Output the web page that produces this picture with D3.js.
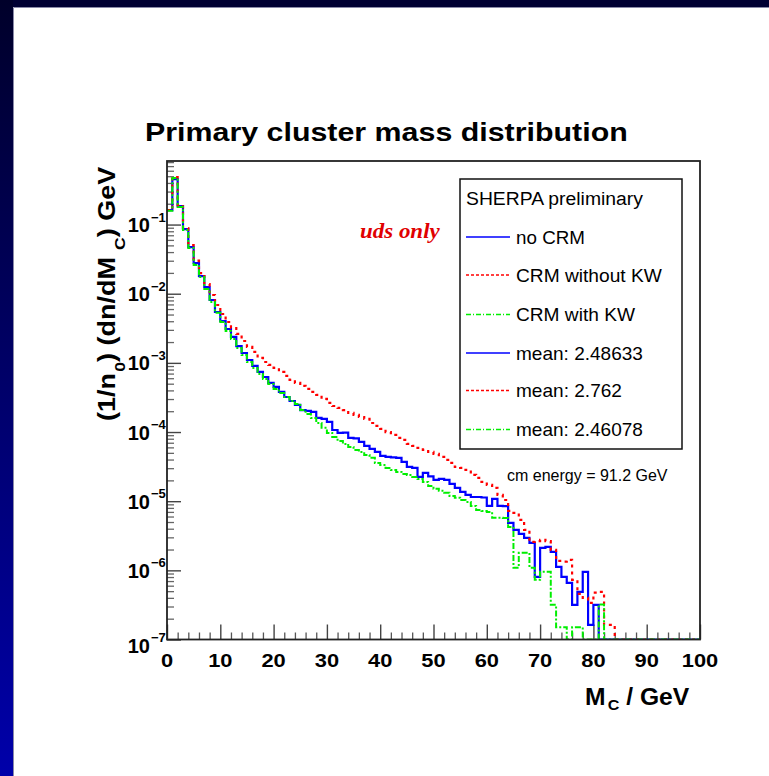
<!DOCTYPE html>
<html>
<head>
<meta charset="utf-8">
<script src="https://cdn.jsdelivr.net/npm/d3@7"></script>
<style>
  html, body { margin: 0; padding: 0; background: #ffffff; }
  svg { display: block; }
</style>
</head>
<body>
<svg id="chart" width="769" height="776"></svg>
<script>
// Normalised primary cluster mass spectra, 1 GeV bins from 0 to 100 GeV
const massRange = [0, 100];

const noCRM = [
  0.162, 0.455, 0.185, 0.0861, 0.0473, 0.0278, 0.0180, 0.0125, 0.00811, 0.00544,
  0.00403, 0.00309, 0.00237, 0.00175, 0.00139, 0.00110, 0.000902, 0.000739, 0.000625, 0.000513,
  0.000449, 0.000380, 0.000321, 0.000281, 0.000247, 0.000208, 0.000202, 0.000195, 0.000160, 0.000155,
  0.000140, 0.000107, 0.0000971, 0.0000980, 0.0000822, 0.0000808, 0.0000719, 0.0000630, 0.0000570, 0.0000516,
  0.0000452, 0.0000437, 0.0000430, 0.0000423, 0.0000370, 0.0000313, 0.0000303, 0.0000224, 0.0000256, 0.0000228,
  0.0000203, 0.0000210, 0.0000203, 0.0000178, 0.0000156, 0.0000136, 0.0000123, 0.0000115, 0.0000115, 0.0000113,
  0.00000855, 0.0000108, 0.00000855, 0.0000085, 0.00000486, 0.00000385, 0.00000337, 0.00000295, 0.00000250, 0.000000805,
  0.00000211, 0.00000218, 0.00000185, 0.00000112, 0.000000805, 0.000000659, 0.000000317, 0.000000489, 0.000000951, 0.000000163,
  0.000000317, 0, 0, 0, 0, 0, 0, 0, 0, 0,
  0, 0, 0, 0, 0, 0, 0, 0, 0, 0
];

const crmWithoutKW = [
  0.162, 0.485, 0.191, 0.0890, 0.0505, 0.0300, 0.0199, 0.0138, 0.00958, 0.00687,
  0.00509, 0.00390, 0.00319, 0.00262, 0.00207, 0.00170, 0.00144, 0.00118, 0.00103, 0.000933,
  0.000844, 0.000739, 0.000647, 0.000566, 0.000513, 0.000464, 0.000420, 0.000380, 0.000344, 0.000301,
  0.000264, 0.000238, 0.000223, 0.000208, 0.000189, 0.000177, 0.000165, 0.000155, 0.000135, 0.000123,
  0.000111, 0.000100, 0.0000908, 0.0000822, 0.0000769, 0.0000673, 0.0000630, 0.0000589, 0.0000551, 0.0000516,
  0.0000483, 0.0000437, 0.0000395, 0.0000357, 0.0000313, 0.0000303, 0.0000283, 0.0000240, 0.0000217, 0.0000190,
  0.0000172, 0.0000156, 0.0000123, 0.0000104, 0.00000724, 0.00000678, 0.00000537, 0.00000385, 0.00000258, 0.00000264,
  0.00000276, 0.00000264, 0.00000198, 0.00000137, 0.00000134, 0.00000142, 0.000000729, 0.000000457, 0.000000401, 0.000000339,
  0.000000475, 0.000000489, 0.000000163, 0.000000163, 0, 0, 0, 0, 0, 0,
  0, 0, 0, 0, 0, 0, 0, 0, 0, 0
];

const crmWithKW = [
  0.158, 0.47, 0.179, 0.0833, 0.0459, 0.0260, 0.0174, 0.0117, 0.00759, 0.00530,
  0.00390, 0.00289, 0.00221, 0.00164, 0.00130, 0.00103, 0.000844, 0.000691, 0.000585, 0.000495,
  0.000420, 0.000367, 0.000321, 0.000281, 0.000255, 0.000208, 0.000183, 0.000160, 0.000135, 0.000115,
  0.0000971, 0.0000849, 0.0000743, 0.0000673, 0.0000609, 0.0000551, 0.0000516, 0.0000467, 0.0000423, 0.0000357,
  0.0000335, 0.0000303, 0.0000283, 0.0000265, 0.0000248, 0.0000240, 0.0000224, 0.0000210, 0.0000190, 0.0000166,
  0.0000151, 0.0000141, 0.0000132, 0.0000119, 0.0000112, 0.0000104, 0.00000977, 0.00000855, 0.00000748, 0.00000724,
  0.00000700, 0.00000574, 0.00000574, 0.0000057, 0.00000425, 0.00000109, 0.00000179, 0.00000179, 0.00000109, 0.000000729,
  0.000000951, 0.000000951, 0.000000317, 0.00000015, 0.00000015, 0, 0.00000015, 0.00000015, 0, 0,
  0, 0.00000032, 0, 0, 0, 0, 0, 0, 0, 0,
  0, 0, 0, 0, 0, 0, 0, 0, 0, 0
];

const seriesLabels = ["no CRM", "CRM without KW", "CRM with KW"];
const meanLabels = ["mean: 2.48633", "mean: 2.762", "mean: 2.46078"];
const xTickLabels = [0, 10, 20, 30, 40, 50, 60, 70, 80, 90, 100];
const yDecades = [-7, -6, -5, -4, -3, -2, -1];
const yRange = [1e-7, 0.83];

// ---------------------------------------------------------------
const svg = d3.select("#chart");
const frame = { left: 167, right: 700, top: 161, bottom: 639.5 };

const x = d3.scaleLinear().domain(massRange).range([frame.left, frame.right]);
const y = d3.scaleLog().domain(yRange).range([frame.bottom, frame.top]).clamp(true);

const styles = [
  { color: "#0000ff", dash: null, width: 2.2, key: null },
  { color: "#ff0000", dash: "3,4", width: 2.2, key: "3,2" },
  { color: "#00ee00", dash: "6,2,2,2", width: 2, key: "5,2,1,2" }
];

// slide background: dark band on top and a blue gradient down the left edge
const defs = svg.append("defs");
const grad = defs.append("linearGradient").attr("id", "sideGrad")
  .attr("x1", 0).attr("y1", 0).attr("x2", 0).attr("y2", 1);
grad.append("stop").attr("offset", "0%").attr("stop-color", "#00002a");
grad.append("stop").attr("offset", "100%").attr("stop-color", "#0000aa");
svg.append("rect").attr("x", 0).attr("y", 0).attr("width", 769).attr("height", 7).attr("fill", "#000033");
svg.append("rect").attr("x", 0).attr("y", 0).attr("width", 13).attr("height", 776).attr("fill", "url(#sideGrad)");
svg.append("path").attr("d", "M13.5,776 V7.5 H769").attr("fill", "none")
  .attr("stroke", "#8a8aa8").attr("stroke-width", 1);

defs.append("clipPath").attr("id", "frameClip").append("rect")
  .attr("x", frame.left).attr("y", frame.top)
  .attr("width", frame.right - frame.left).attr("height", frame.bottom - frame.top);

// helper: text stretched horizontally to a given width
function fitText(g, width) {
  const t = g.select("text");
  const w = t.node().getBBox().width;
  if (w > 0) t.attr("transform", `scale(${width / w},1)`);
}

// ---------------------------------------------------------------
// axes ticks (drawn inside the frame)
const xMinor = d3.range(massRange[0], massRange[1] + 1, 2).filter(v => v % 10 !== 0);
svg.append("g").attr("transform", `translate(0,${frame.bottom})`)
  .call(d3.axisBottom(x).tickValues(xMinor).tickSize(-7).tickFormat(""))
  .call(g => g.select(".domain").remove())
  .call(g => g.selectAll("line").attr("stroke", "#555").attr("stroke-width", 1.3));
svg.append("g").attr("transform", `translate(0,${frame.bottom})`)
  .call(d3.axisBottom(x).tickValues(xTickLabels).tickSize(-15).tickFormat(""))
  .call(g => g.select(".domain").remove())
  .call(g => g.selectAll("line").attr("stroke", "#444").attr("stroke-width", 1.4));

const yMajor = yDecades.map(e => Math.pow(10, e));
const yMinor = [];
yDecades.forEach(e => {
  for (let k = 2; k <= 9; k++) {
    const v = k * Math.pow(10, e);
    if (v <= yRange[1]) yMinor.push(v);
  }
});
svg.append("g").attr("transform", `translate(${frame.left},0)`)
  .call(d3.axisLeft(y).tickValues(yMinor).tickSize(-7).tickFormat(""))
  .call(g => g.select(".domain").remove())
  .call(g => g.selectAll("line").attr("stroke", "#666").attr("stroke-width", 1.3));
svg.append("g").attr("transform", `translate(${frame.left},0)`)
  .call(d3.axisLeft(y).tickValues(yMajor).tickSize(-14).tickFormat(""))
  .call(g => g.select(".domain").remove())
  .call(g => g.selectAll("line").attr("stroke", "#444").attr("stroke-width", 1.4));

// ---------------------------------------------------------------
// histograms
const stepLine = d3.line()
  .x(d => x(d[0]))
  .y(d => y(d[1] > 0 ? d[1] : yRange[0]))
  .curve(d3.curveStepAfter);

const histGroup = svg.append("g").attr("clip-path", "url(#frameClip)");
[noCRM, crmWithoutKW, crmWithKW].forEach((vals, i) => {
  const pts = vals.map((v, b) => [b, v]);
  pts.push([vals.length, vals[vals.length - 1]]);
  histGroup.append("path")
    .attr("d", stepLine(pts))
    .attr("fill", "none")
    .attr("stroke", styles[i].color)
    .attr("stroke-width", styles[i].width)
    .attr("stroke-dasharray", styles[i].dash);
});

// frame
svg.append("rect")
  .attr("x", frame.left).attr("y", frame.top)
  .attr("width", frame.right - frame.left).attr("height", frame.bottom - frame.top)
  .attr("fill", "none").attr("stroke", "#222").attr("stroke-width", 1.8);

// ---------------------------------------------------------------
// tick labels
const sans = "'Liberation Sans', Arial, Helvetica, sans-serif";
xTickLabels.forEach(v => {
  const g = svg.append("g").attr("transform", `translate(${x(v)},667)`);
  g.append("text").attr("text-anchor", "middle")
    .attr("font-family", sans).attr("font-weight", "bold").attr("font-size", 19)
    .attr("transform", "scale(1.15,1)").attr("fill", "#000").text(v);
});

yDecades.forEach((e, i) => {
  const ty = y(Math.pow(10, e)) + (i === 0 ? 5.5 : 0);
  svg.append("text").attr("x", 150).attr("y", ty + 7.5).attr("text-anchor", "end")
    .attr("font-family", sans).attr("font-weight", "bold").attr("font-size", 20)
    .attr("fill", "#000").text("10");
  svg.append("text").attr("x", 151).attr("y", ty - 3).attr("text-anchor", "start")
    .attr("font-family", sans).attr("font-weight", "bold").attr("font-size", 13)
    .attr("fill", "#000").text("\u2212" + Math.abs(e));
});

// ---------------------------------------------------------------
// titles
{
  const g = svg.append("g").attr("transform", "translate(145,141)");
  g.append("text").attr("font-family", sans).attr("font-weight", "bold").attr("font-size", 26)
    .attr("fill", "#000").text("Primary cluster mass distribution");
  fitText(g, 483);
}
{
  const g = svg.append("g").attr("transform", "translate(115,421) rotate(-90)");
  const t = g.append("text").attr("font-family", sans).attr("font-weight", "bold")
    .attr("font-size", 23).attr("fill", "#000");
  t.append("tspan").text("(1/n");
  t.append("tspan").attr("font-size", 15).attr("dy", 10).attr("dx", 1).text("0");
  t.append("tspan").attr("dy", -10).text(") (dn/dM");
  t.append("tspan").attr("font-size", 15).attr("dy", 10).attr("dx", 6).text("C");
  t.append("tspan").attr("dy", -10).text(") GeV");
  fitText(g, 255);
}
{
  const g = svg.append("g").attr("transform", "translate(585,705)");
  const t = g.append("text").attr("font-family", sans).attr("font-weight", "bold")
    .attr("font-size", 23).attr("fill", "#000");
  t.append("tspan").text("M");
  t.append("tspan").attr("font-size", 15).attr("dy", 5).attr("dx", 2).text("C");
  t.append("tspan").attr("dy", -5).text(" / GeV");
  fitText(g, 105);
}
{
  const g = svg.append("g").attr("transform", "translate(360,238)");
  g.append("text").attr("font-family", "'Liberation Serif', 'Times New Roman', serif")
    .attr("font-weight", "bold").attr("font-style", "italic").attr("font-size", 22)
    .attr("fill", "#e00000").text("uds only");
  fitText(g, 80);
}
svg.append("text").attr("x", 507).attr("y", 481)
  .attr("font-family", sans).attr("font-size", 16).attr("fill", "#000")
  .text("cm energy = 91.2 GeV");

// ---------------------------------------------------------------
// legend
const legend = { x: 460, y: 179, w: 222, h: 270 };
svg.append("rect").attr("x", legend.x).attr("y", legend.y)
  .attr("width", legend.w).attr("height", legend.h)
  .attr("fill", "#fff").attr("stroke", "#111").attr("stroke-width", 1.5);
{
  const g = svg.append("g").attr("transform", "translate(466,205)");
  g.append("text").attr("font-family", sans).attr("font-size", 18).attr("fill", "#000")
    .text("SHERPA preliminary");
  fitText(g, 177);
}
const entries = seriesLabels.map((s, i) => ({ label: s, style: styles[i] }))
  .concat(meanLabels.map((s, i) => ({ label: s, style: styles[i] })));
const baselines = [243.5, 281.5, 321, 359.5, 397, 436];
const widths = [69, 146, 119, 127, 106, 127];
entries.forEach((d, i) => {
  const by = baselines[i];
  svg.append("line").attr("x1", 466).attr("x2", 510).attr("y1", by - 6.5).attr("y2", by - 6.5)
    .attr("stroke", d.style.color).attr("stroke-width", 1.3)
    .attr("stroke-dasharray", d.style.key);
  const g = svg.append("g").attr("transform", `translate(516,${by})`);
  g.append("text").attr("font-family", sans).attr("font-size", 18).attr("fill", "#000").text(d.label);
  fitText(g, widths[i]);
});
</script>
</body>
</html>
